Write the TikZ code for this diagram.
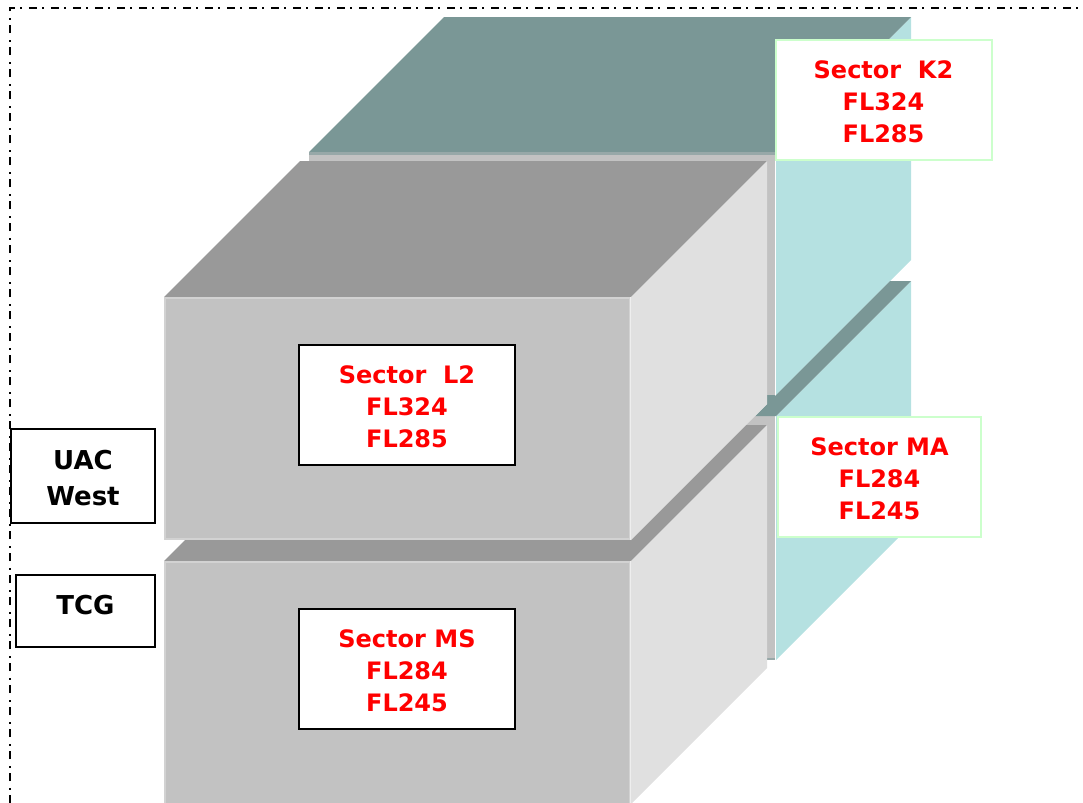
\documentclass[tikz,border=0pt]{standalone}
\usepackage{fontspec}
\setmainfont{DejaVu Sans}
\usepackage{xcolor}
\definecolor{Backtop}{RGB}{122,151,150}
\definecolor{Backside}{RGB}{181,225,225}
\definecolor{Frontface}{RGB}{194,194,194}
\definecolor{Frontedge}{RGB}{210,210,210}
\definecolor{Frontside}{RGB}{224,224,224}
\definecolor{Frontlight}{RGB}{238,238,238}
\definecolor{Fronttop}{RGB}{153,153,153}
\definecolor{Softgreen}{RGB}{204,255,204}
\usetikzlibrary{positioning}
\newcommand{\sectlines}[3]{\rule{0pt}{15.6pt}#1\\#2\\#3}

\begin{document}
\begin{tikzpicture}[
  x=0.75pt, y=-0.75pt,
  sect/.style={rectangle, fill=white, align=center,
               minimum width=162pt, minimum height=90pt, inner sep=0pt,
               font=\fontsize{18}{24}\selectfont\bfseries, text=red},
  fblk/.style={sect, draw=black, line width=1.1pt},
  gblk/.style={sect, draw=Softgreen, line width=1.5pt},
  unit/.style={rectangle, fill=white, draw=black, line width=1.1pt,
               align=center, inner sep=0pt,
               font=\fontsize{19.5}{27}\selectfont\bfseries},
  border/.style={line width=1.2pt, dash pattern=on 6pt off 4pt on 1.5pt off 5pt},
  topface/.style={fill=Fronttop},
  sideface/.style={fill=Frontside},
  frontface/.style={fill=Frontface, draw=Frontedge, line width=1.2pt},
  backface/.style={fill=Frontface}
]
\useasboundingbox (0,0) rectangle (1083,803);

%% --- Marco --------------------------------------------------
\draw[border] (10,803) -- (10,8) -- (1083,8);

%% --- Bloque trasero: K2 y MA --------------------------------
\fill[Backside] (776,152) -- (911,17) -- (911,260) -- (776,395) -- cycle;
\fill[Backside] (776,416) -- (911,281) -- (911,525) -- (776,660) -- cycle;
\fill[backface] (309,152) rectangle (775,395);
\fill[Backtop] (309,152) -- (444,17) -- (911,17) -- (776,152) -- cycle;
\fill[backface] (309,416) rectangle (775,660);
\fill[Backtop] (755,416) -- (890,281) -- (911,281) -- (776,416) -- cycle;
\fill[Backtop] (767,395) rectangle (775,416);
\fill[Backtop!60!Frontface] (309,152) rectangle (775,155);
\fill[Backtop!60!Frontface] (767,658) rectangle (775,660);

%% --- Bloque frontal: MS -------------------------------------
\fill[topface] (164,561) -- (300,425) -- (767,425) -- (631,561) -- cycle;
\fill[sideface] (631,561) -- (767,425) -- (767,668) -- (631,804) -- cycle;
\draw[frontface] (165,562) rectangle (630,810);
\draw[Frontlight, line width=1.2pt] (630.5,561) -- (630.5,803);

%% --- Bloque frontal: L2 -------------------------------------
\fill[topface] (164,297) -- (300,161) -- (767,161) -- (631,297) -- cycle;
\fill[sideface] (631,297) -- (767,161) -- (767,404) -- (631,540) -- cycle;
\draw[frontface] (165,298) rectangle (630,539);
\draw[Frontlight, line width=1.2pt] (630.5,297) -- (630.5,540);

%% --- Etiquetas ----------------------------------------------
\node[gblk] (k2) at (883.5,100) {\sectlines{Sector\ \ K2}{FL324}{FL285}};
\node[gblk, minimum width=152pt] (ma) at (879.5,477) {\sectlines{Sector MA}{FL284}{FL245}};
\node[fblk] (l2) at (407,405) {\sectlines{Sector\ \ L2}{FL324}{FL285}};
\node[fblk] (ms) at (407,669) {\sectlines{Sector MS}{FL284}{FL245}};
\node[unit, minimum width=108pt, minimum height=70.5pt] (uac) at (83,476) {\rule{0pt}{17.4pt}UAC\\West};
\node[unit, minimum width=104pt, minimum height=54pt] (tcg) at (85.5,611) {\raisebox{8.5pt}{TCG}};

\end{tikzpicture}
\end{document}
